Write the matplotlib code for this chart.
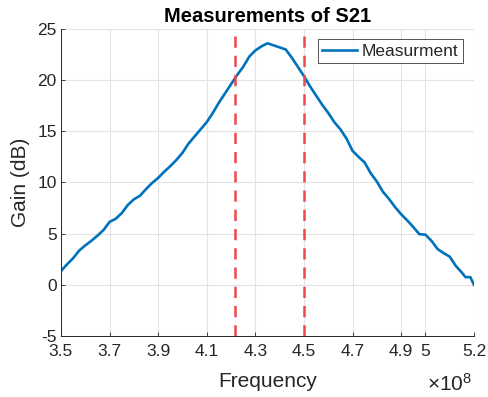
import matplotlib
matplotlib.use("Agg")
import matplotlib.pyplot as plt
import numpy as np

# measured S21 (frequency in units of 1e8 Hz, gain in dB)
freq = [3.500, 3.525, 3.550, 3.575, 3.600, 3.625, 3.650, 3.675, 3.700, 3.725,
        3.750, 3.775, 3.800, 3.825, 3.850, 3.875, 3.900, 3.925, 3.950, 3.975,
        4.000, 4.025, 4.050, 4.075, 4.100, 4.125, 4.150, 4.175, 4.200, 4.225,
        4.250, 4.275, 4.300, 4.325, 4.350, 4.375, 4.400, 4.425, 4.450, 4.475,
        4.500, 4.525, 4.550, 4.575, 4.600, 4.625, 4.650, 4.675, 4.700, 4.725,
        4.750, 4.775, 4.800, 4.825, 4.850, 4.875, 4.900, 4.925, 4.950, 4.975,
        5.000, 5.025, 5.050, 5.075, 5.100, 5.125, 5.150, 5.165, 5.185, 5.200]
gain = [1.35, 2.0, 2.6, 3.35, 3.85, 4.3, 4.8, 5.35, 6.15, 6.45,
        7.0, 7.8, 8.35, 8.7, 9.35, 9.95, 10.45, 11.05, 11.6, 12.2,
        12.9, 13.8, 14.5, 15.2, 15.9, 16.8, 17.8, 18.7, 19.6, 20.5,
        21.3, 22.3, 22.9, 23.3, 23.6, 23.4, 23.2, 23.0, 22.2, 21.3,
        20.4, 19.4, 18.5, 17.6, 16.8, 15.9, 15.2, 14.3, 13.1, 12.5,
        11.95, 10.9, 10.1, 9.1, 8.4, 7.6, 6.9, 6.3, 5.65, 4.95,
        4.9, 4.3, 3.5, 3.1, 2.75, 1.85, 1.2, 0.75, 0.75, 0.0]
band_edges = [4.216, 4.5]

xticks = [3.5, 3.7, 3.9, 4.1, 4.3, 4.5, 4.7, 4.9, 5.0, 5.2]
xtick_labels = ["3.5", "3.7", "3.9", "4.1", "4.3", "4.5", "4.7", "4.9", "5", "5.2"]
yticks = [-5, 0, 5, 10, 15, 20, 25]

plt.rcParams["font.family"] = ["Liberation Sans", "DejaVu Sans"]
plt.rcParams["axes.unicode_minus"] = False
plt.rcParams["mathtext.fontset"] = "custom"
plt.rcParams["mathtext.rm"] = "Liberation Sans"
plt.rcParams["mathtext.it"] = "Liberation Sans:italic"
txt = "#262626"

fig = plt.figure(figsize=(4.89, 3.97), dpi=100)
ax = fig.add_axes([0.1247, 0.1537, 0.8446, 0.7733])

f_hz = np.array(freq) * 1e8
ax.plot(f_hz, gain, color="#0072BD", linewidth=1.9, label="Measurment")
for fe in band_edges:
    ax.axvline(fe * 1e8, color="#F0474C", linewidth=1.8, linestyle=(0, (4.5, 3.2)))

ax.set_xlim(3.5e8, 5.2e8)
ax.set_ylim(-5, 25)
ax.set_xticks([t * 1e8 for t in xticks])
ax.set_xticklabels(xtick_labels)
ax.set_yticks(yticks)
ax.tick_params(direction="in", length=3, width=0.6, colors=txt, labelsize=12.5)
ax.tick_params(axis="x", pad=6)
ax.tick_params(axis="y", pad=3)
ax.grid(True, color="#E3E3E3", linewidth=0.8)
ax.set_axisbelow(True)
for s in ["top", "right"]:
    ax.spines[s].set_visible(False)
for s in ["left", "bottom"]:
    ax.spines[s].set_color(txt)
    ax.spines[s].set_linewidth(0.7)

ax.set_xlabel("Frequency", fontsize=15, color=txt, labelpad=9)
ax.set_ylabel("Gain (dB)", fontsize=15, color=txt, labelpad=5)
ax.set_title("Measurements of S21", fontsize=14.5, fontweight="bold", pad=5)
ax.text(0.995, -0.155, r"$\times10^{8}$", transform=ax.transAxes, ha="right", va="center",
        fontsize=15, color=txt)

leg = ax.legend(loc="upper right", fontsize=12.5, frameon=True, fancybox=False,
                borderpad=0.25, handlelength=2.0, handletextpad=0.3,
                borderaxespad=0, bbox_to_anchor=(0.973, 0.967))
leg.get_frame().set_edgecolor(txt)
leg.get_frame().set_linewidth(0.7)
for t in leg.get_texts():
    t.set_color(txt)

fig.savefig("out.png", dpi=100)
